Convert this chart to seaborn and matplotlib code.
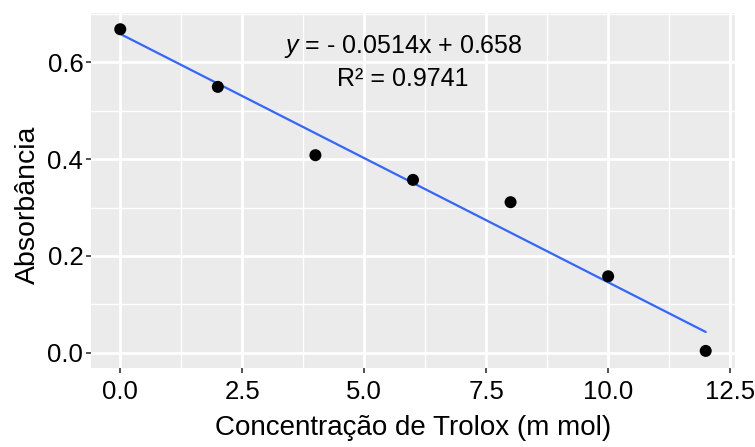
import matplotlib
matplotlib.use("Agg")
import matplotlib.pyplot as plt
import seaborn as sns
import pandas as pd
import numpy as np
from matplotlib.ticker import MultipleLocator

concentracao = [0, 2, 4, 6, 8, 10, 12]
absorbancia = [0.668, 0.549, 0.408, 0.357, 0.311, 0.158, 0.004]
x_ticks = [0.0, 2.5, 5.0, 7.5, 10.0, 12.5]
y_ticks = [0.0, 0.2, 0.4, 0.6]
eq_text = "$y$ = - 0.0514x + 0.658"
r2_text = "R² = 0.9741"

df = pd.DataFrame({"x": concentracao, "y": absorbancia})

sns.set_theme(style="darkgrid")
plt.rcParams["font.family"] = ["Liberation Sans", "DejaVu Sans"]
plt.rcParams["mathtext.fontset"] = "custom"
plt.rcParams["mathtext.it"] = "Liberation Sans:italic"
plt.rcParams["mathtext.rm"] = "Liberation Sans"

fig = plt.figure(figsize=(7.55, 4.47), dpi=100)
ax = fig.add_axes([0.1205, 0.1767, 0.853, 0.794])
ax.set_facecolor("#EBEBEB")

sns.regplot(data=df, x="x", y="y", ax=ax, ci=None, truncate=True,
            scatter_kws=dict(s=75, color="black", edgecolor="none", alpha=1, zorder=3),
            line_kws=dict(color="#3366FF", lw=1.6, zorder=2))

ax.set_xlim(-0.6, 12.6)
ax.set_ylim(-0.0313, 0.7013)
ax.set_xticks(x_ticks)
ax.set_yticks(y_ticks)
ax.set_xticklabels([f"{t:.1f}" for t in x_ticks])
ax.set_yticklabels([f"{t:.1f}" for t in y_ticks])
ax.xaxis.set_minor_locator(MultipleLocator(1.25))
ax.yaxis.set_minor_locator(MultipleLocator(0.1))
ax.grid(which="major", color="white", lw=2.0)
ax.grid(which="minor", color="white", lw=1.0)
ax.tick_params(which="major", length=3.5, width=1.2, color="#333333",
               labelsize=18.5, labelcolor="black", pad=2, left=True, bottom=True)
ax.tick_params(axis="x", which="major", pad=5)
ax.tick_params(which="minor", length=0)
for s in ax.spines.values():
    s.set_visible(False)

ax.set_xlabel("Concentração de Trolox (m mol)", fontsize=20, color="black", labelpad=8)
ax.set_ylabel("Absorbância", fontsize=20.5, color="black", labelpad=5)
ax.yaxis.label.set_y(0.459)

ax.text(5.8, 0.633, eq_text, ha="center", va="center", fontsize=18, color="black")
ax.text(5.8, 0.566, r2_text, ha="center", va="center", fontsize=18, color="black")

fig.savefig("out.png", dpi=100)
